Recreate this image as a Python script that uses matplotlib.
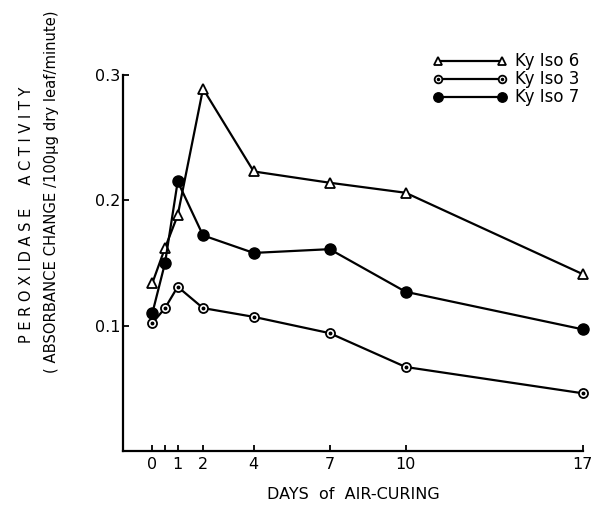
import matplotlib
matplotlib.use('Agg')
import matplotlib.pyplot as plt

# days of air-curing and peroxidase activity
days = [0, 0.5, 1, 2, 4, 7, 10, 17]
iso6 = [0.134, 0.162, 0.188, 0.289, 0.223, 0.214, 0.206, 0.141]
iso3 = [0.102, 0.114, 0.131, 0.114, 0.107, 0.094, 0.067, 0.046]
iso7 = [0.110, 0.150, 0.215, 0.172, 0.158, 0.161, 0.127, 0.097]

xticks = [0, 0.5, 1, 2, 4, 7, 10, 17]
xticklabels = ['0', '', '1', '2', '4', '7', '10', '17']
yticks = [0.1, 0.2, 0.3]
yticklabels = ['0.1', '0.2', '0.3']

plt.rcParams['font.family'] = ['DejaVu Sans']

fig = plt.figure(figsize=(5.93, 5.05), dpi=100)
ax = fig.add_axes([0.2074, 0.107, 0.7756, 0.7446])

lw = 1.6
l6, = ax.plot(days, iso6, color='black', lw=lw, marker='^', ms=6.5,
              mfc='white', mec='black', mew=1.3, clip_on=False, zorder=3)
l3, = ax.plot(days, iso3, color='black', lw=lw, marker='o', ms=6.5,
              mfc='white', mec='black', mew=1.3, clip_on=False, zorder=3)
d3, = ax.plot(days, iso3, ls='none', marker='o', ms=1.8, color='black',
              clip_on=False, zorder=4)
l7, = ax.plot(days, iso7, color='black', lw=lw, marker='o', ms=8,
              mfc='black', mec='black', clip_on=False, zorder=3)

ax.set_xlim(-1.16, 17)
ax.set_ylim(0, 0.3)
ax.set_xticks(xticks)
ax.set_xticklabels(xticklabels)
ax.set_yticks(yticks)
ax.set_yticklabels(yticklabels)
ax.tick_params(direction='in', length=4, width=1.3, labelsize=11.5, pad=4)
ax.tick_params(axis='y', pad=2)

for s in ['top', 'right']:
    ax.spines[s].set_visible(False)
for s in ['left', 'bottom']:
    ax.spines[s].set_linewidth(1.6)

ax.set_xlabel('DAYS  of  AIR-CURING', fontsize=11.5, labelpad=11)
fig.text(0.045, 0.575, 'P E R O X I D A S E     A C T I V I T Y', rotation=90,
         ha='center', va='center', fontsize=10.5)
fig.text(0.087, 0.62, '( ABSORBANCE CHANGE /100\u00b5g dry leaf/minute)',
         rotation=90, ha='center', va='center', fontsize=10.6)

ax.legend([l6, (l3, d3), l7], ['Ky Iso 6', 'Ky Iso 3', 'Ky Iso 7'],
          numpoints=2, handlelength=4.4, frameon=False, fontsize=12,
          loc='upper right', bbox_to_anchor=(1.025, 1.1),
          labelspacing=0.0, handletextpad=0.5, markerscale=0.85)

fig.savefig('out.png', dpi=100)
